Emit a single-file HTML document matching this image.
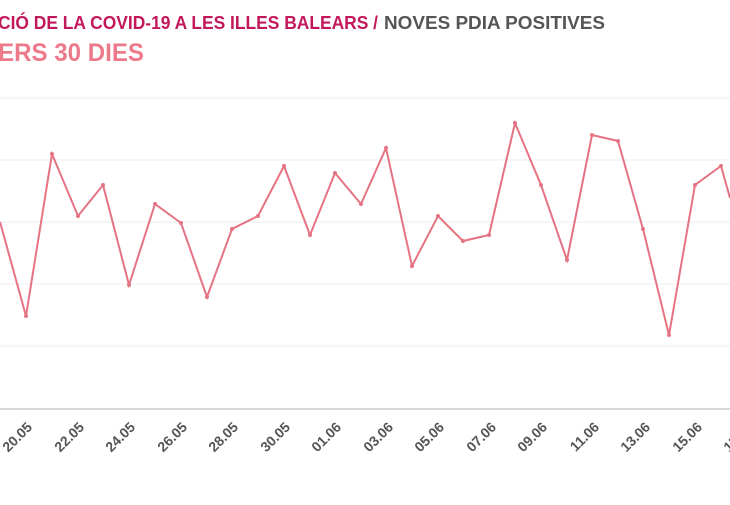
<!DOCTYPE html><html><head><style>body{margin:0;background:#fff;width:730px;height:500px;overflow:hidden}svg text{font-family:"Liberation Sans",sans-serif;font-weight:bold}</style></head><body>
<svg width="730" height="500" xmlns="http://www.w3.org/2000/svg">
<text x="-2" y="29" font-size="18" fill="#c2185b" textLength="380" lengthAdjust="spacingAndGlyphs">CIÓ DE LA COVID-19 A LES ILLES BALEARS /</text>
<text x="384" y="29" font-size="18" fill="#555" textLength="221" lengthAdjust="spacingAndGlyphs">NOVES PDIA POSITIVES</text>
<text x="-2" y="61" font-size="25" fill="#ec7a8a" textLength="146" lengthAdjust="spacingAndGlyphs">ERS 30 DIES</text>
<g stroke="#eee" stroke-width="1"><line x1="0" x2="730" y1="98" y2="98"/><line x1="0" x2="730" y1="160" y2="160"/><line x1="0" x2="730" y1="222" y2="222"/><line x1="0" x2="730" y1="284" y2="284"/><line x1="0" x2="730" y1="346" y2="346"/></g>
<line x1="0" x2="730" y1="409" y2="409" stroke="#ccc" stroke-width="1.5"/>
<polyline fill="none" stroke="#e57383" stroke-width="2" points="0,222 26,316 52,154 78,216 103,185 129,285 155,204 181,223 207,297 232,229 258,216 284,166 310,235 335,173 361,204 386,148 412,266 438,216 463,241 489,235 515,123 541,185 567,260 592,135 618,141 643,229 669,335 695,185 721,166 730,198"/>
<g fill="#e57383"><circle cx="26" cy="316" r="2"/><circle cx="52" cy="154" r="2"/><circle cx="78" cy="216" r="2"/><circle cx="103" cy="185" r="2"/><circle cx="129" cy="285" r="2"/><circle cx="155" cy="204" r="2"/><circle cx="181" cy="223" r="2"/><circle cx="207" cy="297" r="2"/><circle cx="232" cy="229" r="2"/><circle cx="258" cy="216" r="2"/><circle cx="284" cy="166" r="2"/><circle cx="310" cy="235" r="2"/><circle cx="335" cy="173" r="2"/><circle cx="361" cy="204" r="2"/><circle cx="386" cy="148" r="2"/><circle cx="412" cy="266" r="2"/><circle cx="438" cy="216" r="2"/><circle cx="463" cy="241" r="2"/><circle cx="489" cy="235" r="2"/><circle cx="515" cy="123" r="2"/><circle cx="541" cy="185" r="2"/><circle cx="567" cy="260" r="2"/><circle cx="592" cy="135" r="2"/><circle cx="618" cy="141" r="2"/><circle cx="643" cy="229" r="2"/><circle cx="669" cy="335" r="2"/><circle cx="695" cy="185" r="2"/><circle cx="721" cy="166" r="2"/></g>
<g font-size="14" fill="#555" text-anchor="end">
<text transform="translate(33,428) rotate(-45)">20.05</text>
<text transform="translate(85,428) rotate(-45)">22.05</text>
<text transform="translate(136,428) rotate(-45)">24.05</text>
<text transform="translate(188,428) rotate(-45)">26.05</text>
<text transform="translate(239,428) rotate(-45)">28.05</text>
<text transform="translate(291,428) rotate(-45)">30.05</text>
<text transform="translate(342,428) rotate(-45)">01.06</text>
<text transform="translate(394,428) rotate(-45)">03.06</text>
<text transform="translate(445,428) rotate(-45)">05.06</text>
<text transform="translate(497,428) rotate(-45)">07.06</text>
<text transform="translate(548,428) rotate(-45)">09.06</text>
<text transform="translate(600,428) rotate(-45)">11.06</text>
<text transform="translate(651,428) rotate(-45)">13.06</text>
<text transform="translate(703,428) rotate(-45)">15.06</text>
<text transform="translate(754,428) rotate(-45)">17.06</text>
</g>
</svg></body></html>
